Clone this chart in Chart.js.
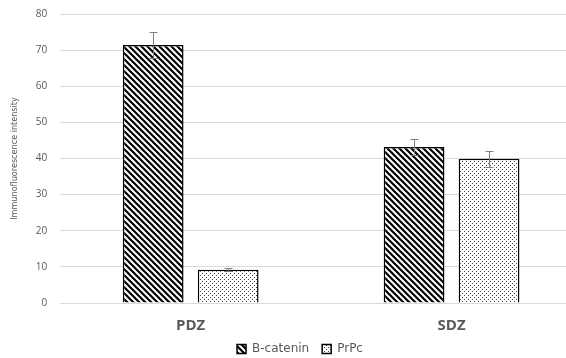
<!DOCTYPE html>
<html>
<head>
<meta charset="utf-8">
<script src="https://cdn.jsdelivr.net/npm/chart.js@4/dist/chart.umd.min.js"></script>
<style>
  html, body { margin: 0; padding: 0; background: #fff; overflow: hidden; }
  #wrap { width: 582px; height: 364px; margin-top: -5px; }
</style>
</head>
<body>
<div id="wrap"><canvas id="barChart"></canvas></div>
<script>
const categories = ["PDZ", "SDZ"];
const bcatenin = [71.4, 43.2];
const bcateninErr = [3.6, 2.2];
const prpc = [9.2, 39.9];
const prpcErr = [0.4, 2.2];

// hatch patterns like the excel fills
function stripes() {
  const c = document.createElement("canvas");
  c.width = 6; c.height = 6;
  const g = c.getContext("2d");
  g.fillStyle = "#fff";
  g.fillRect(0, 0, 6, 6);
  g.strokeStyle = "#000";
  g.lineWidth = 2.2;
  g.beginPath();
  g.moveTo(-1, -1); g.lineTo(7, 7);
  g.moveTo(-4, 2); g.lineTo(4, 10);
  g.moveTo(2, -4); g.lineTo(10, 4);
  g.stroke();
  return g.createPattern(c, "repeat");
}

function dots() {
  const c = document.createElement("canvas");
  c.width = 4; c.height = 4;
  const g = c.getContext("2d");
  g.fillStyle = "#fff";
  g.fillRect(0, 0, 4, 4);
  g.fillStyle = "#444";
  g.fillRect(0, 0, 1, 1);
  g.fillRect(2, 2, 1, 1);
  return g.createPattern(c, "repeat");
}

const errorBars = {
  id: "errorBars",
  afterDatasetsDraw(chart) {
    const { ctx, scales } = chart;
    const errs = [bcateninErr, prpcErr];
    ctx.save();
    ctx.strokeStyle = "#7f7f7f";
    ctx.lineWidth = 1;
    chart.data.datasets.forEach((ds, i) => {
      chart.getDatasetMeta(i).data.forEach((bar, j) => {
        const v = ds.data[j], e = errs[i][j];
        const top = scales.y.getPixelForValue(v + e);
        const bot = scales.y.getPixelForValue(v - e);
        const x = Math.round(bar.x) + 0.5;
        ctx.beginPath();
        ctx.moveTo(x, top); ctx.lineTo(x, bot);
        ctx.moveTo(x - 4, Math.round(top) + 0.5); ctx.lineTo(x + 4, Math.round(top) + 0.5);
        ctx.moveTo(x - 4, Math.round(bot) + 0.5); ctx.lineTo(x + 4, Math.round(bot) + 0.5);
        ctx.stroke();
      });
    });
    ctx.restore();
  }
};

// canvas is wider than the window, so move the legend to where excel had it,
// and let it take less height so the plot reaches down to the axis labels
const SHRINK = 11;
const legendShift = {
  id: "legendShift",
  afterInit(chart) {
    const lg = chart.legend;
    const fit = lg.fit;
    lg.fit = function () {
      fit.call(this);
      this.height -= SHRINK;
    };
  },
  afterLayout(chart) {
    const lg = chart.legend;
    const dx = 300 - (lg.left + lg.right) / 2;
    lg.left += dx;
    lg.right += dx;
    lg.top -= SHRINK;
  }
};

new Chart(document.getElementById("barChart"), {
  type: "bar",
  data: {
    labels: categories,
    datasets: [
      {
        label: "B-catenin",
        data: bcatenin,
        backgroundColor: stripes(),
        borderColor: "#000",
        borderWidth: 1.5,
        barPercentage: 0.81,
        categoryPercentage: 0.575
      },
      {
        label: "PrPc",
        data: prpc,
        backgroundColor: dots(),
        borderColor: "#000",
        borderWidth: 1.5,
        barPercentage: 0.81,
        categoryPercentage: 0.575
      }
    ]
  },
  options: {
    responsive: true,
    maintainAspectRatio: false,
    animation: false,
    layout: { padding: { top: 0, left: 6, bottom: -6 } },
    plugins: {
      tooltip: { enabled: false },
      legend: {
        position: "bottom",
        labels: {
          boxWidth: 9,
          boxHeight: 9,
          padding: 13,
          color: "#595959",
          font: { family: "DejaVu Sans", size: 12 }
        }
      }
    },
    scales: {
      x: {
        grid: { display: false },
        border: { display: false },
        ticks: {
          color: "#595959",
          padding: 6,
          font: { family: "Open Sans", size: 15, weight: "bold" }
        }
      },
      y: {
        min: 0,
        max: 80,
        ticks: {
          stepSize: 10,
          padding: 13,
          color: "#595959",
          font: { family: "Open Sans", size: 10 }
        },
        grid: { color: "#d9d9d9", drawTicks: false },
        border: { display: false },
        title: {
          display: true,
          text: "Immunofluorescence intensity",
          color: "#595959",
          padding: 3,
          font: { family: "DejaVu Sans Condensed, Roboto", size: 9 }
        }
      }
    }
  },
  plugins: [errorBars, legendShift]
});
</script>
</body>
</html>
